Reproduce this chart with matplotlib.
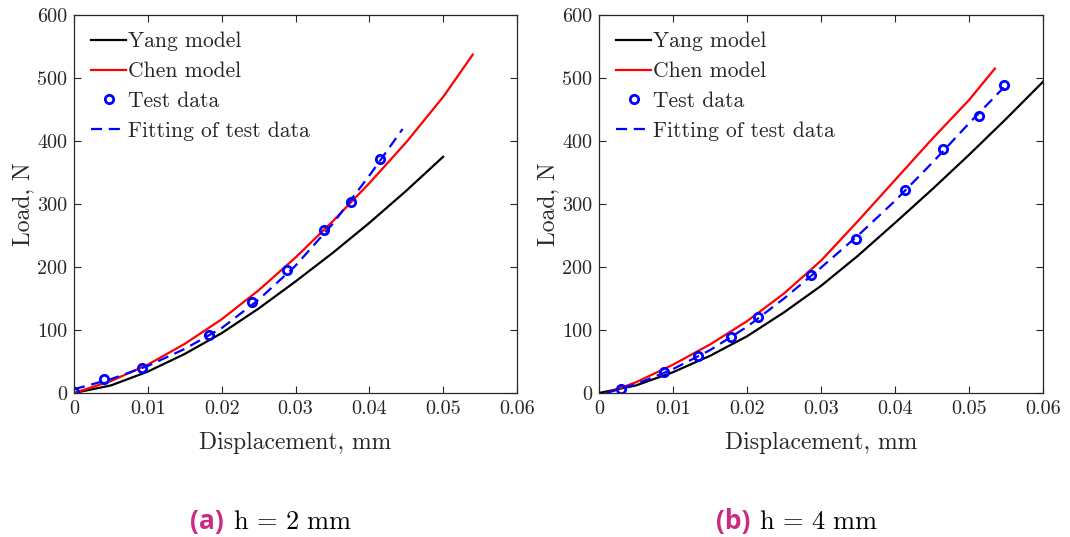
import matplotlib
matplotlib.use("Agg")
import matplotlib.pyplot as plt

plt.rcParams["font.family"] = ["cmr10", "DejaVu Serif"]
plt.rcParams["axes.formatter.use_mathtext"] = True
plt.rcParams["mathtext.fontset"] = "cm"

# ---- panel (a): h = 2 mm ----
yang_a_x = [0, 0.005, 0.01, 0.015, 0.02, 0.025, 0.03, 0.035, 0.04, 0.045, 0.05]
yang_a_y = [0, 12, 34, 62, 95, 134, 177, 222, 270, 321, 375]
chen_a_x = [0, 0.005, 0.01, 0.015, 0.02, 0.025, 0.03, 0.035, 0.04, 0.045, 0.05, 0.054]
chen_a_y = [0, 19, 45, 78, 117, 163, 215, 272, 333, 398, 470, 537]
test_a_x = [0, 0.0041, 0.0092, 0.0183, 0.0241, 0.0289, 0.0339, 0.0375, 0.0414]
test_a_y = [2, 22, 40, 92, 145, 196, 259, 303, 372]
fit_a_x = [0, 0.005, 0.01, 0.015, 0.02, 0.025, 0.03, 0.035, 0.04, 0.0445]
fit_a_y = [6, 22, 43, 70, 103, 148, 202, 268, 345, 419]

# ---- panel (b): h = 4 mm ----
yang_b_x = [0, 0.005, 0.01, 0.015, 0.02, 0.025, 0.03, 0.035, 0.04, 0.045, 0.05, 0.055, 0.06]
yang_b_y = [0, 12, 33, 59, 90, 128, 170, 218, 270, 323, 378, 435, 494]
chen_b_x = [0.001, 0.005, 0.01, 0.015, 0.02, 0.025, 0.03, 0.035, 0.04, 0.045, 0.05, 0.0535]
chen_b_y = [0, 17, 45, 77, 114, 158, 210, 273, 338, 403, 465, 515]
test_b_x = [0.003, 0.0088, 0.0134, 0.0178, 0.0215, 0.0286, 0.0347, 0.0414, 0.0465, 0.0513, 0.0547]
test_b_y = [6, 34, 59, 89, 121, 187, 244, 322, 387, 439, 489]
fit_b_x = [0.001, 0.005, 0.01, 0.015, 0.02, 0.025, 0.03, 0.035, 0.04, 0.045, 0.05, 0.0547]
fit_b_y = [0, 14, 38, 68, 105, 150, 199, 250, 305, 365, 428, 485]

x_ticks = [0, 0.01, 0.02, 0.03, 0.04, 0.05, 0.06]
x_tick_labels = ["0", "0.01", "0.02", "0.03", "0.04", "0.05", "0.06"]
y_ticks = [0, 100, 200, 300, 400, 500, 600]
y_tick_labels = ["0", "100", "200", "300", "400", "500", "600"]
caption_tags = ["(a)", "(b)"]
caption_texts = [r"$\mathrm{h}\,=\,2\ \mathrm{mm}$", r"$\mathrm{h}\,=\,4\ \mathrm{mm}$"]

axis_color = "#262626"
W, H = 1070, 537

fig = plt.figure(figsize=(W / 100, H / 100), dpi=100)
ax_a = fig.add_axes([74 / W, 1 - 393 / H, 443 / W, 378 / H])
ax_b = fig.add_axes([599 / W, 1 - 393 / H, 444 / W, 378 / H])

panels = [
    (ax_a, yang_a_x, yang_a_y, chen_a_x, chen_a_y, test_a_x, test_a_y, fit_a_x, fit_a_y),
    (ax_b, yang_b_x, yang_b_y, chen_b_x, chen_b_y, test_b_x, test_b_y, fit_b_x, fit_b_y),
]

for ax, yx, yy, cx, cy, tx, ty, fx, fy in panels:
    ax.plot(yx, yy, color="black", lw=1.6, label="Yang model")
    ax.plot(cx, cy, color="red", lw=1.6, label="Chen model")
    ax.plot(tx, ty, "o", ls="none", mfc="none", mec="blue", mew=2.0, ms=6,
            label="Test data")
    ax.plot(fx, fy, color="blue", lw=1.6, ls=(0, (5, 3)),
            label="Fitting of test data")

    ax.set_xlim(0, 0.06)
    ax.set_ylim(0, 600)
    ax.set_xticks(x_ticks, x_tick_labels)
    ax.set_yticks(y_ticks, y_tick_labels)
    ax.tick_params(direction="in", top=True, right=True, length=5,
                   width=0.8, colors=axis_color, labelsize=14.5, pad=5)
    for sp in ax.spines.values():
        sp.set_color(axis_color)
        sp.set_linewidth(0.9)
    ax.set_xlabel("Displacement, mm", fontsize=17, color=axis_color, labelpad=10)
    ax.set_ylabel("Load, N", fontsize=17, color=axis_color, labelpad=2)

    leg = ax.legend(loc="upper left", frameon=False, fontsize=15.5,
                    handlelength=1.6, handletextpad=0.1, labelspacing=0.48,
                    borderaxespad=0.2, bbox_to_anchor=(0.01, 0.99))
    for t in leg.get_texts():
        t.set_color(axis_color)

# captions below panels
for ax, tag, txt in zip([ax_a, ax_b], caption_tags, caption_texts):
    pos = ax.get_position()
    xc = (pos.x0 + pos.x1) / 2
    fig.text(xc - 105 / W, 1 - 529 / H, tag, ha="left", va="baseline",
             fontsize=19, fontweight="bold", color="#cc2a82", family="Open Sans")
    fig.text(xc - 62 / W, 1 - 529 / H, txt, ha="left", va="baseline",
             fontsize=19, color="black")

fig.savefig("out.png", dpi=100)
